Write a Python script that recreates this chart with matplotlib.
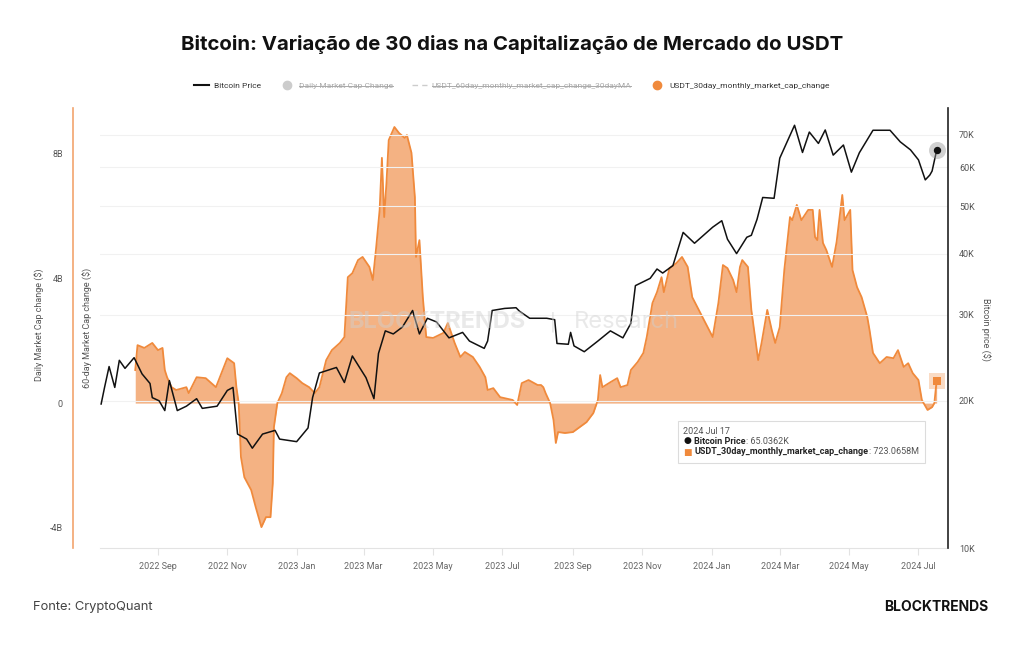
import matplotlib
matplotlib.use("Agg")
import matplotlib.pyplot as plt
import matplotlib.dates as mdates
import pandas as pd
from matplotlib.lines import Line2D
from matplotlib.patches import Rectangle

# Bitcoin price (thousand USD)
btc_dates = ["2022-07-13", "2022-07-16", "2022-07-20", "2022-07-25", "2022-07-29", "2022-08-03",
             "2022-08-11", "2022-08-18", "2022-08-25", "2022-08-27", "2022-09-02", "2022-09-07",
             "2022-09-11", "2022-09-18", "2022-09-26", "2022-10-05", "2022-10-10", "2022-10-23",
             "2022-11-01", "2022-11-06", "2022-11-10", "2022-11-18", "2022-11-23", "2022-12-02",
             "2022-12-13", "2022-12-17", "2023-01-01", "2023-01-11", "2023-01-15", "2023-01-21",
             "2023-02-05", "2023-02-12", "2023-02-19", "2023-03-03", "2023-03-10", "2023-03-14",
             "2023-03-20", "2023-03-27", "2023-04-04", "2023-04-13", "2023-04-19", "2023-04-26",
             "2023-05-04", "2023-05-15", "2023-05-27", "2023-06-02", "2023-06-15", "2023-06-18",
             "2023-06-22", "2023-07-03", "2023-07-13", "2023-07-16", "2023-07-25", "2023-08-09",
             "2023-08-16", "2023-08-18", "2023-08-28", "2023-08-30", "2023-09-02", "2023-09-11",
             "2023-09-23", "2023-10-04", "2023-10-15", "2023-10-22", "2023-10-26", "2023-11-08",
             "2023-11-14", "2023-11-19", "2023-11-28", "2023-12-07", "2023-12-17", "2024-01-02",
             "2024-01-10", "2024-01-15", "2024-01-23", "2024-02-01", "2024-02-05", "2024-02-10",
             "2024-02-15", "2024-02-25", "2024-03-01", "2024-03-14", "2024-03-21", "2024-03-27",
             "2024-04-04", "2024-04-10", "2024-04-17", "2024-04-26", "2024-05-03", "2024-05-10",
             "2024-05-22", "2024-06-06", "2024-06-15", "2024-06-24", "2024-07-01", "2024-07-07",
             "2024-07-11", "2024-07-13", "2024-07-17"]
btc_price_k = [19.7, 21.3, 23.5, 21.3, 24.2, 23.3,
               24.5, 22.7, 21.7, 20.3, 20.0, 19.1,
               22.0, 19.1, 19.5, 20.2, 19.3, 19.5,
               21.0, 21.3, 17.1, 16.7, 16.0, 17.1,
               17.4, 16.7, 16.5, 17.6, 20.3, 22.8,
               23.4, 21.8, 24.7, 22.3, 20.2, 25.0,
               27.8, 27.4, 28.3, 30.6, 27.4, 29.5,
               29.0, 26.9, 27.6, 26.5, 25.6, 26.5,
               30.6, 30.9, 31.0, 30.5, 29.5, 29.5,
               29.3, 26.2, 26.1, 27.6, 25.9, 25.2,
               26.5, 27.8, 26.9, 28.8, 34.4, 35.6,
               37.2, 36.5, 37.8, 44.2, 42.0, 45.3,
               46.7, 42.8, 40.0, 43.2, 43.6, 47.0,
               52.1, 51.9, 62.7, 73.2, 64.4, 70.9,
               67.2, 71.6, 63.6, 66.7, 58.7, 64.3,
               71.5, 71.5, 67.7, 65.2, 62.2, 56.6,
               57.9, 59.0, 65.0362]

# USDT 30-day market cap change (billion USD)
usdt_dates = ["2022-08-12", "2022-08-14", "2022-08-20", "2022-08-27", "2022-09-01", "2022-09-05",
              "2022-09-07", "2022-09-09", "2022-09-13", "2022-09-17", "2022-09-26", "2022-09-28",
              "2022-10-05", "2022-10-13", "2022-10-22", "2022-10-29", "2022-11-01", "2022-11-07",
              "2022-11-09", "2022-11-11", "2022-11-13", "2022-11-16", "2022-11-22", "2022-11-26",
              "2022-12-01", "2022-12-05", "2022-12-09", "2022-12-11", "2022-12-12", "2022-12-15",
              "2022-12-19", "2022-12-23", "2022-12-26", "2023-01-01", "2023-01-06", "2023-01-12",
              "2023-01-17", "2023-01-21", "2023-01-27", "2023-02-01", "2023-02-08", "2023-02-12",
              "2023-02-15", "2023-02-19", "2023-02-24", "2023-02-28", "2023-03-06", "2023-03-09",
              "2023-03-12", "2023-03-15", "2023-03-17", "2023-03-19", "2023-03-21", "2023-03-23",
              "2023-03-28", "2023-04-01", "2023-04-06", "2023-04-08", "2023-04-12", "2023-04-15",
              "2023-04-16", "2023-04-19", "2023-04-22", "2023-04-25", "2023-05-01", "2023-05-10",
              "2023-05-14", "2023-05-20", "2023-05-25", "2023-05-29", "2023-06-05", "2023-06-11",
              "2023-06-16", "2023-06-18", "2023-06-23", "2023-06-29", "2023-07-10", "2023-07-14",
              "2023-07-18", "2023-07-24", "2023-08-01", "2023-08-04", "2023-08-06", "2023-08-08",
              "2023-08-12", "2023-08-15", "2023-08-17", "2023-08-19", "2023-08-25", "2023-09-01",
              "2023-09-13", "2023-09-19", "2023-09-23", "2023-09-25", "2023-09-27", "2023-10-04",
              "2023-10-10", "2023-10-13", "2023-10-19", "2023-10-22", "2023-10-28", "2023-11-02",
              "2023-11-05", "2023-11-10", "2023-11-14", "2023-11-18", "2023-11-20", "2023-11-25",
              "2023-12-01", "2023-12-06", "2023-12-11", "2023-12-15", "2023-12-24", "2024-01-02",
              "2024-01-07", "2024-01-11", "2024-01-15", "2024-01-20", "2024-01-23", "2024-01-26",
              "2024-01-28", "2024-02-02", "2024-02-05", "2024-02-11", "2024-02-14", "2024-02-19",
              "2024-02-23", "2024-02-26", "2024-03-01", "2024-03-05", "2024-03-10", "2024-03-12",
              "2024-03-16", "2024-03-20", "2024-03-26", "2024-03-30", "2024-04-01", "2024-04-03",
              "2024-04-05", "2024-04-08", "2024-04-11", "2024-04-16", "2024-04-20", "2024-04-25",
              "2024-04-27", "2024-05-02", "2024-05-04", "2024-05-08", "2024-05-12", "2024-05-17",
              "2024-05-19", "2024-05-22", "2024-05-28", "2024-06-03", "2024-06-09", "2024-06-13",
              "2024-06-18", "2024-06-22", "2024-06-26", "2024-07-01", "2024-07-04", "2024-07-09",
              "2024-07-13", "2024-07-15", "2024-07-17"]
usdt_change_b = [1.06, 1.86, 1.77, 1.93, 1.70, 1.77,
                 1.06, 0.83, 0.51, 0.42, 0.51, 0.32,
                 0.83, 0.80, 0.51, 1.16, 1.44, 1.28,
                 0.51, 0.00, -1.73, -2.38, -2.79, -3.34,
                 -3.98, -3.66, -3.66, -2.57, -0.77, 0.00,
                 0.32, 0.83, 0.96, 0.80, 0.64, 0.51,
                 0.32, 0.51, 1.38, 1.70, 1.93, 2.12,
                 4.04, 4.17, 4.59, 4.69, 4.37, 3.95,
                 5.01, 6.20, 7.87, 5.97, 7.06, 8.44,
                 8.86, 8.67, 8.51, 8.60, 8.03, 6.61,
                 4.69, 5.23, 3.40, 2.12, 2.09, 2.25,
                 2.57, 1.93, 1.48, 1.64, 1.48, 1.16,
                 0.83, 0.42, 0.48, 0.19, 0.10, -0.06,
                 0.64, 0.74, 0.58, 0.58, 0.51, 0.32,
                 0.00, -0.55, -1.28, -0.93, -0.96, -0.93,
                 -0.61, -0.32, 0.10, 0.90, 0.51, 0.67,
                 0.80, 0.51, 0.58, 1.06, 1.32, 1.61,
                 2.12, 3.21, 3.56, 4.04, 3.56, 4.33,
                 4.49, 4.69, 4.37, 3.40, 2.76, 2.12,
                 3.21, 4.43, 4.33, 3.95, 3.56, 4.37,
                 4.59, 4.37, 2.99, 1.38, 1.93, 2.99,
                 2.34, 1.93, 2.44, 4.27, 5.97, 5.87,
                 6.36, 5.87, 6.20, 6.20, 5.33, 5.23,
                 6.20, 5.14, 4.91, 4.37, 5.17, 6.68,
                 5.87, 6.20, 4.27, 3.72, 3.40, 2.76,
                 2.34, 1.61, 1.28, 1.48, 1.44, 1.70,
                 1.16, 1.28, 0.96, 0.74, 0.10, -0.22,
                 -0.13, 0.00, 0.723]

left_ticks = [-4, 0, 4, 8]
left_labels = ["-4B", "0", "4B", "8B"]
right_ticks = [10, 20, 30, 40, 50, 60, 70]
right_labels = ["10K", "20K", "30K", "40K", "50K", "60K", "70K"]
month_ticks = pd.date_range("2022-09-01", "2024-07-01", freq="2MS")

ORANGE = "#f08a3c"
ORANGE_FILL = "#f4b283"
W, H = 1024, 645
PX = 72 / 100  # points per pixel at dpi 100
plt.rcParams["font.family"] = ["Roboto", "DejaVu Sans"]

btc_x = pd.to_datetime(btc_dates)
usdt_x = pd.to_datetime(usdt_dates)

fig = plt.figure(figsize=(W / 100, H / 100), dpi=100)
ax = fig.add_axes([100 / W, 1 - 548 / H, 848 / W, 440 / H])
ax2 = ax.twinx()

# orange area (left axis)
ax.fill_between(usdt_x, usdt_change_b, 0, color=ORANGE_FILL, lw=0, zorder=2)
ax.plot(usdt_x, usdt_change_b, color=ORANGE, lw=1.3, zorder=3)
ax.set_ylim(-4.65, 9.47)
ax.set_xlim(pd.Timestamp("2022-07-12"), pd.Timestamp("2024-07-27"))
ax.set_yticks(left_ticks)
ax.set_yticklabels(left_labels)
ax.spines["left"].set_position(("outward", 27 * PX))
ax.spines["left"].set_color("#f2a46e")
ax.spines["left"].set_linewidth(1.2)
ax.spines["top"].set_visible(False)
ax.spines["right"].set_visible(False)
ax.spines["bottom"].set_color("#e3e3e3")
ax.tick_params(axis="y", length=0, pad=10 * PX, labelsize=6.5, labelcolor="#555555")
ax.set_xticks(month_ticks)
ax.xaxis.set_major_formatter(mdates.DateFormatter("%Y %b"))
ax.tick_params(axis="x", length=5, color="#e3e3e3", pad=5, labelsize=6.5, labelcolor="#666666")

# price line (right log axis)
ax2.set_yscale("log")
ax2.set_ylim(10, 79.4)
ax2.plot(btc_x, btc_price_k, color="#111111", lw=1.1, zorder=3)
ax2.set_yticks(right_ticks)
ax2.set_yticklabels(right_labels)
ax2.minorticks_off()
ax2.tick_params(axis="y", length=0, pad=11 * PX, labelsize=6.5, labelcolor="#555555")
for s in ["top", "left", "bottom"]:
    ax2.spines[s].set_visible(False)
ax2.spines["right"].set_color("#222222")
ax2.spines["right"].set_linewidth(1.2)

# horizontal gridlines at the price ticks
for p in right_ticks[1:]:
    ax2.axhline(p, color="#f1f1f1", lw=0.8, zorder=0)
ax2.set_zorder(ax.get_zorder() + 1)
ax2.patch.set_visible(False)

# end markers
ax2.scatter([btc_x[-1]], [btc_price_k[-1]], s=150, color="#999999", alpha=0.45, zorder=4, lw=0)
ax2.scatter([btc_x[-1]], [btc_price_k[-1]], s=28, color="#111111", zorder=5, lw=0)
ax.scatter([usdt_x[-1]], [usdt_change_b[-1]], s=130, marker="s", color=ORANGE, alpha=0.3, zorder=4, lw=0)
ax.scatter([usdt_x[-1]], [usdt_change_b[-1]], s=30, marker="s", color=ORANGE, zorder=5, lw=0)

# axis titles
fig.text(40 / W, 1 - 325 / H, "Daily Market Cap change ($)", rotation=90, ha="center", va="center",
         fontsize=6.5, color="#555555")
fig.text(88 / W, 1 - 328 / H, "60-day Market Cap change ($)", rotation=90, ha="center", va="center",
         fontsize=6.5, color="#555555")
fig.text(985 / W, 1 - 330 / H, "Bitcoin price ($)", rotation=270, ha="center", va="center",
         fontsize=6.5, color="#555555")

# watermark
fig.text(437 / W, 1 - 322 / H, "BLOCKTRENDS", ha="center", va="center", fontsize=17,
         fontweight="bold", family=["Inter", "DejaVu Sans"], color="#cfcfcf", alpha=0.45, zorder=10)
fig.text(553 / W, 1 - 322 / H, "|", ha="center", va="center", fontsize=17, color="#cfcfcf", alpha=0.45, zorder=10)
fig.text(626 / W, 1 - 322 / H, "Research", ha="center", va="center", fontsize=17,
         family=["Inter", "DejaVu Sans"], color="#cfcfcf", alpha=0.45, zorder=10)

# title and footer
fig.text(0.5, 1 - 44 / H, "Bitcoin: Variação de 30 dias na Capitalização de Mercado do USDT",
         ha="center", va="center", fontsize=14.7, fontweight="bold", family=["Inter", "DejaVu Sans"],
         color="#111111")
fig.text(33 / W, 1 - 607 / H, "Fonte: CryptoQuant", ha="left", va="center", fontsize=9.3, color="#444444",
         family=["Inter", "DejaVu Sans"])
fig.text(988 / W, 1 - 607 / H, "BLOCKTRENDS", ha="right", va="center", fontsize=10, fontweight="bold",
         family=["Inter", "DejaVu Sans"], color="#111111")

# legend
handles = [Line2D([], [], color="#111111", lw=1.5),
           Line2D([], [], marker="o", ls="none", color="#cccccc", markersize=6),
           Line2D([], [], color="#cccccc", lw=1, ls=(0, (4, 3))),
           Line2D([], [], marker="o", ls="none", color=ORANGE, markersize=6)]
labels = ["Bitcoin Price", "Daily Market Cap Change",
          "USDT_60day_monthly_market_cap_change_30dayMA", "USDT_30day_monthly_market_cap_change"]
leg = fig.legend(handles, labels, loc="center", bbox_to_anchor=(512 / W, 1 - 86 / H), ncol=4,
                 frameon=False, fontsize=6, handlelength=1.8, handletextpad=0.6, columnspacing=2.2)
for t, c in zip(leg.get_texts(), ["#333333", "#aaaaaa", "#aaaaaa", "#333333"]):
    t.set_color(c)

fig.canvas.draw()
r = fig.canvas.get_renderer()
for t in leg.get_texts()[1:3]:
    bb = t.get_window_extent(r)
    ym = (bb.y0 + bb.y1) / 2
    fig.add_artist(Line2D([bb.x0 / W, bb.x1 / W], [ym / H, ym / H], transform=fig.transFigure,
                          color="#aaaaaa", lw=0.7))

# tooltip
fig.add_artist(Rectangle((678 / W, 1 - 463 / H), 247 / W, 42 / H, transform=fig.transFigure,
                         facecolor="white", edgecolor="#dcdcdc", lw=0.8, zorder=20))


def draw_runs(x_px, y_px, runs):
    x = x_px
    for s, weight, color in runs:
        t = fig.text(x / W, 1 - y_px / H, s, fontsize=6.5, fontweight=weight, color=color,
                     ha="left", va="center", zorder=21)
        x += t.get_window_extent(r).width


draw_runs(683, 431, [("2024 Jul 17", "normal", "#555555")])
draw_runs(684, 441, [("\u25cf ", "normal", "#111111"), ("Bitcoin Price", "bold", "#222222"),
                     (": 65.0362K", "normal", "#555555")])
draw_runs(684, 452, [("\u25a0 ", "normal", ORANGE), ("USDT_30day_monthly_market_cap_change", "bold", "#222222"),
                     (": 723.0658M", "normal", "#555555")])

fig.savefig("out.png", dpi=100, facecolor="white")
